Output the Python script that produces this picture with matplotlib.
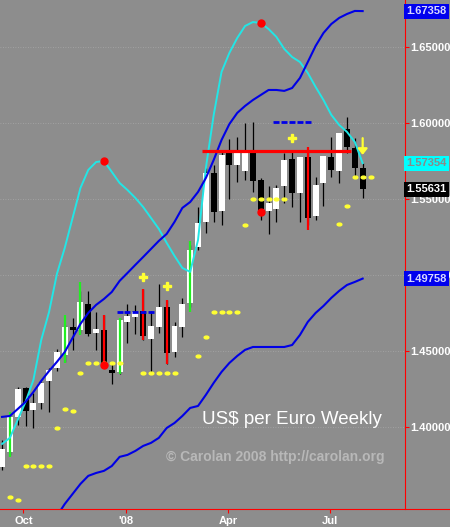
import numpy as np
import pandas as pd
import matplotlib
matplotlib.use('Agg')
import matplotlib.pyplot as plt
from matplotlib.path import Path
from matplotlib.lines import Line2D
from matplotlib.patches import Rectangle
import matplotlib.transforms as mtransforms

plt.rcParams['font.family'] = ['Liberation Sans', 'DejaVu Sans']

# ---------------- data ----------------
start_date = '2007-09-12'
opens = [1.3737, 1.3836, 1.4066, 1.4257, 1.4112, 1.4158, 1.4303, 1.4388, 1.4474, 1.4658,
         1.4638, 1.4809, 1.4618, 1.4638, 1.4375, 1.4362, 1.4691, 1.4724, 1.4763, 1.4579,
         1.4658, 1.4789, 1.4493, 1.4658, 1.4816, 1.5184, 1.5349, 1.5671, 1.5421, 1.5809,
         1.5724, 1.5684, 1.5803, 1.5625, 1.5421, 1.5434, 1.5586, 1.5763, 1.5539, 1.5776,
         1.5388, 1.5605, 1.5776, 1.5684, 1.5961, 1.5836, 1.5704]
highs = [1.3914, 1.4079, 1.4263, 1.4263, 1.4224, 1.4295, 1.4388, 1.4513, 1.4671, 1.4717,
         1.4895, 1.4895, 1.4757, 1.4737, 1.4428, 1.4717, 1.4809, 1.4803, 1.4908, 1.4763,
         1.4941, 1.4836, 1.4691, 1.4849, 1.5197, 1.5447, 1.5704, 1.5724, 1.5822, 1.5895,
         1.5908, 1.6000, 1.6007, 1.5638, 1.5586, 1.5592, 1.5803, 1.5809, 1.5776, 1.5822,
         1.5645, 1.5783, 1.5908, 1.5934, 1.6040, 1.5901, 1.5737]
lows = [1.3717, 1.3816, 1.4013, 1.4007, 1.3993, 1.4118, 1.4099, 1.4368, 1.4428, 1.4507,
        1.4618, 1.4599, 1.4507, 1.4408, 1.4283, 1.4349, 1.4553, 1.4612, 1.4572, 1.4355,
        1.4618, 1.4414, 1.4461, 1.4592, 1.4789, 1.5165, 1.5276, 1.5349, 1.5329, 1.5500,
        1.5612, 1.5625, 1.5546, 1.5362, 1.5270, 1.5349, 1.5474, 1.5447, 1.5349, 1.5329,
        1.5362, 1.5454, 1.5645, 1.5605, 1.5803, 1.5645, 1.5507]
closes = [1.3855, 1.4066, 1.4250, 1.4105, 1.4158, 1.4290, 1.4375, 1.4493, 1.4658, 1.4638,
          1.4822, 1.4612, 1.4645, 1.4421, 1.4355, 1.4704, 1.4730, 1.4757, 1.4599, 1.4664,
          1.4789, 1.4487, 1.4664, 1.4809, 1.5165, 1.5342, 1.5671, 1.5414, 1.5789, 1.5724,
          1.5803, 1.5803, 1.5618, 1.5428, 1.5474, 1.5572, 1.5757, 1.5539, 1.5776, 1.5375,
          1.5592, 1.5783, 1.5691, 1.5934, 1.5842, 1.5704, 1.5563]

cyan_line = [1.3888, 1.3928, 1.4046, 1.4165, 1.4309, 1.4572, 1.4757, 1.5007, 1.5178, 1.5375,
             1.5572, 1.5691, 1.5743, 1.5750, 1.5678, 1.5605, 1.5559, 1.5507, 1.5447, 1.5375,
             1.5303, 1.5211, 1.5125, 1.5046, 1.5020, 1.5230, 1.5704, 1.6053, 1.6336, 1.6461,
             1.6559, 1.6638, 1.6664, 1.6658, 1.6618, 1.6566, 1.6487, 1.6434, 1.6401, 1.6329,
             1.6237, 1.6151, 1.6053, 1.5987, 1.5941, 1.5875, 1.5735]
upper_blue = [1.4066, 1.4072, 1.4118, 1.4165, 1.4230, 1.4303, 1.4368, 1.4428, 1.4493, 1.4586,
              1.4678, 1.4750, 1.4803, 1.4842, 1.4888, 1.4961, 1.5013, 1.5066, 1.5118, 1.5171,
              1.5224, 1.5270, 1.5349, 1.5441, 1.5480, 1.5546, 1.5638, 1.5757, 1.5888, 1.5993,
              1.6066, 1.6112, 1.6151, 1.6184, 1.6217, 1.6217, 1.6211, 1.6230, 1.6296, 1.6401,
              1.6507, 1.6592, 1.6651, 1.6691, 1.6717, 1.6737, 1.6736]
lower_blue_start = 7
lower_blue = [1.3414, 1.3493, 1.3559, 1.3625, 1.3678, 1.3697, 1.3711, 1.3743, 1.3803, 1.3816,
              1.3842, 1.3875, 1.3895, 1.3928, 1.3993, 1.4026, 1.4072, 1.4125, 1.4138, 1.4211,
              1.4290, 1.4362, 1.4421, 1.4467, 1.4507, 1.4526, 1.4526, 1.4526, 1.4526, 1.4526,
              1.4539, 1.4605, 1.4691, 1.4750, 1.4796, 1.4849, 1.4895, 1.4934, 1.4954, 1.4976]

green_idx = [1, 8, 10, 15, 24]
green_hi = [1.4099, 1.4737, 1.4954, 1.4717, 1.5224]
green_lo = [1.3803, 1.4421, 1.4605, 1.4349, 1.4757]
red_idx = [13, 18, 21, 39]
red_hi = [1.4737, 1.4908, 1.4836, 1.5842]
red_lo = [1.4421, 1.4572, 1.4414, 1.5296]

ydash_start = [3, 11, 18, 27, 32, 45]
ydash_end = [6, 15, 22, 30, 36, 47]
ydash_level = [1.3743, 1.4421, 1.4355, 1.4757, 1.5500, 1.5645]
ydot_idx = [1, 2, 7, 8, 9, 10, 25, 26, 31, 43, 44]
ydot_val = [1.3539, 1.3520, 1.3993, 1.4118, 1.4105, 1.4355, 1.4467, 1.4592, 1.5329, 1.5336, 1.5454]
plus_idx = [18, 21, 37]
plus_val = [1.4987, 1.4927, 1.5901]
bdash_start = [15, 35]
bdash_end = [19, 39]
bdash_level = [1.4757, 1.6007]
resist_level = 1.5816
resist_start, resist_end = 26, 44
rdot_idx = [13, 33]
rdot_val = [1.4408, 1.5414]
arrow_idx = 46
arrow_from, arrow_to = 1.5900, 1.5790

ytick_vals = [1.40, 1.45, 1.50, 1.55, 1.60, 1.65]
xtick_dates = ['2007-10-01', '2008-01-01', '2008-04-01', '2008-07-01']
xtick_labels = ['Oct', "'08", 'Apr', 'Jul']
tag_vals = [1.67358, 1.57354, 1.55631, 1.49758]
tag_face = ['#0000ee', '#00ffff', '#000000', '#0000ee']
tag_text = ['#d8d8ff', '#8a8a8a', '#ffffff', '#d8d8ff']
title_text = 'US$ per Euro Weekly'
credit_text = '\u00a9 Carolan 2008 http://carolan.org'

# ---------------- figure ----------------
BG = '#8d8d8d'
YELLOW = '#ffff33'
BLUE = '#0000e6'
CYAN = '#22e6e6'
RED = '#ff0000'

fig = plt.figure(figsize=(4.5, 5.27), dpi=100, facecolor=BG)
ax = fig.add_axes([0, 18 / 527, 405 / 450, 509 / 527], facecolor=BG)
ax.set_xlim(-0.26, 51.4)
ax.set_ylim(1.3460, 1.6809)

n = len(opens)
x = np.arange(n)
t0 = pd.Timestamp(start_date)

for yv in ytick_vals:
    ax.axhline(yv, color='#a9a9a9', lw=0.6, ls=(0, (1, 2)), zorder=1)

# candles
for i in range(n):
    o, h, l, c = opens[i], highs[i], lows[i], closes[i]
    ax.vlines(i, l, h, color='black', lw=0.9, zorder=3)
    up = c >= o
    ax.add_patch(Rectangle((i - 0.38, min(o, c)), 0.76, max(abs(c - o), 0.0005),
                           facecolor='white' if up else 'black', edgecolor='none', zorder=4))

ax.vlines(green_idx, green_lo, green_hi, color='#22ee22', lw=1.6, zorder=5)
ax.vlines(red_idx, red_lo, red_hi, color=RED, lw=1.6, zorder=5)

# lines
ax.plot(x, cyan_line, color=CYAN, lw=1.4, zorder=6)
ax.plot(x, upper_blue, color=BLUE, lw=1.5, zorder=6)
ax.plot(np.arange(lower_blue_start, lower_blue_start + len(lower_blue)), lower_blue,
        color=BLUE, lw=1.5, zorder=6)

# ellipse marker
ell = Path.unit_circle().transformed(mtransforms.Affine2D().scale(1.0, 0.6))

for s, e, lv in zip(ydash_start, ydash_end, ydash_level):
    xs = np.arange(s, e + 1)
    ax.plot(xs, [lv] * len(xs), ls='none', marker=ell, ms=3.4, color=YELLOW, zorder=7, clip_on=False)
ax.plot(ydot_idx, ydot_val, ls='none', marker=ell, ms=3.4, color=YELLOW, zorder=7)
ax.plot(plus_idx, plus_val, ls='none', marker='P', ms=5.5, color=YELLOW, mec=YELLOW, zorder=7)

for s, e, lv in zip(bdash_start, bdash_end, bdash_level):
    xs = np.arange(s, e + 1)
    ax.plot(xs, [lv] * len(xs), ls='none', marker='_', ms=4.0, mew=2.0, color=BLUE, zorder=7)

ax.hlines(resist_level, resist_start - 0.45, resist_end + 0.45, color=RED, lw=2.3, zorder=7)
ax.plot(rdot_idx, rdot_val, ls='none', marker='o', ms=5, color=RED, zorder=8)
ax.plot(rdot_idx, [cyan_line[i] for i in rdot_idx], ls='none', marker='o', ms=5, color=RED, zorder=8)

ax.annotate('', xy=(arrow_idx, arrow_to), xytext=(arrow_idx, arrow_from),
            arrowprops=dict(arrowstyle='-|>,head_width=0.28,head_length=0.35',
                            color=YELLOW, lw=1.6, shrinkA=0, shrinkB=0), zorder=8)

# axes styling
for sp in ['left', 'top', 'bottom']:
    ax.spines[sp].set_visible(False)
ax.spines['right'].set_color(RED)
ax.spines['right'].set_linewidth(0.8)
fig.add_artist(Line2D([0, 1], [18 / 527, 18 / 527], transform=fig.transFigure,
                      color=RED, lw=0.8))

ax.yaxis.tick_right()
ax.set_yticks(ytick_vals)
ax.set_yticklabels([f'{v:.5f}' for v in ytick_vals])
ax.tick_params(axis='y', colors=RED, length=3, width=0.8, pad=1, labelcolor='white', labelsize=8)
xpos = [(pd.Timestamp(d) - t0).days / 7 for d in xtick_dates]
ax.set_xticks(xpos)
ax.set_xticklabels(xtick_labels)
ax.tick_params(axis='x', colors=RED, length=3, width=0.8, pad=2, labelcolor='white', labelsize=8)
for lbl in ax.get_xticklabels() + ax.get_yticklabels():
    lbl.set_fontweight('bold')

for v, fc, tc in zip(tag_vals, tag_face, tag_text):
    ax.text(1.003, v, f'{v:.5f}', transform=ax.get_yaxis_transform(), ha='left', va='center',
            fontsize=8, fontweight='bold', color=tc, zorder=20, clip_on=False,
            bbox=dict(boxstyle='square,pad=0.22', fc=fc, ec='none'))

ax.text(0.721, 0.175, title_text, transform=ax.transAxes, ha='center', va='center',
        fontsize=13.5, color='white', zorder=9)
ax.text(0.679, 0.102, credit_text, transform=ax.transAxes, ha='center', va='center',
        fontsize=10, fontweight='bold', color='#b8b8b8', zorder=9)

fig.savefig('out.png', dpi=100, facecolor=BG)
